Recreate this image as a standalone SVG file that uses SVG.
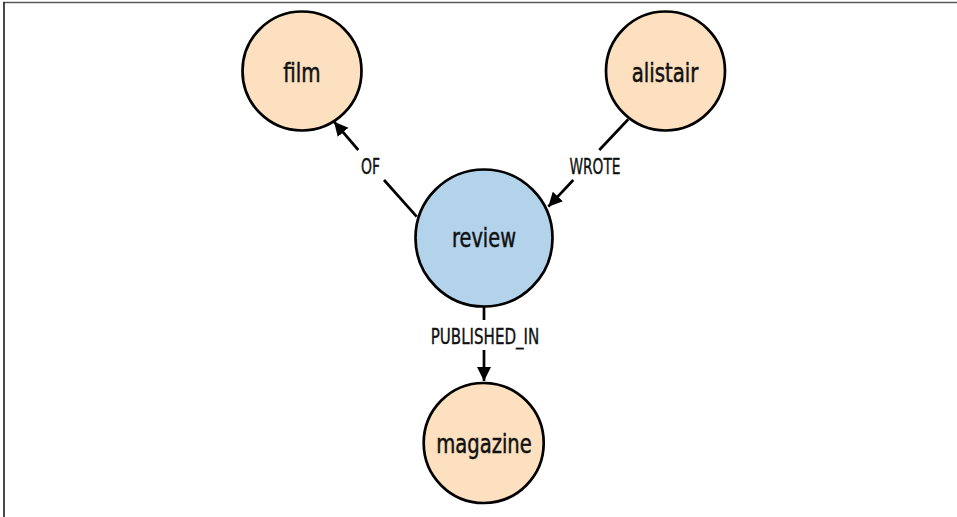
<svg xmlns="http://www.w3.org/2000/svg" width="957" height="517" viewBox="0 0 957 517">
<style>
.bg{fill:#ffffff}
.node circle{stroke:#000;stroke-width:2.7}
.orange circle{fill:#fde0c0}
.blue circle{fill:#b2d3ea}
.nlabel{font-family:"DejaVu Sans Condensed","DejaVu Sans","Liberation Sans",sans-serif;font-stretch:condensed;font-size:27px;fill:#111;stroke:#111;stroke-width:0.5;text-anchor:middle}
.elabel{font-family:"DejaVu Sans Condensed","DejaVu Sans","Liberation Sans",sans-serif;font-stretch:condensed;font-size:20.5px;fill:#111;stroke:#111;stroke-width:0.35;text-anchor:middle}
.edge line{stroke:#000;stroke-width:2.7;fill:none}
</style>
<defs>
<marker id="arrow" markerUnits="userSpaceOnUse" markerWidth="16" markerHeight="16" refX="14" refY="7" orient="auto" viewBox="0 0 16 16">
<path d="M0,0 L14,7 L0,14 z" fill="#000"/>
</marker>
</defs>
<rect class="bg" x="0" y="0" width="957" height="517"/>
<g id="frame">
<line x1="3" y1="2.5" x2="957" y2="2.5" stroke="#5a5a5a" stroke-width="1.4"/>
<line x1="4" y1="2" x2="4" y2="517" stroke="#2a2a2a" stroke-width="1.7"/>
</g>
<g id="connectors" class="edge">
<g id="edge-of">
<line x1="416.7" y1="216.7" x2="384" y2="180"/>
<line x1="358.3" y1="150" x2="334" y2="121.7" marker-end="url(#arrow)"/>
<text class="elabel" x="370.5" y="174" textLength="19" lengthAdjust="spacingAndGlyphs">OF</text>
</g>
<g id="edge-wrote">
<line x1="628.3" y1="119.3" x2="599.3" y2="150"/>
<line x1="573.3" y1="180" x2="548.3" y2="206.7" marker-end="url(#arrow)"/>
<text class="elabel" x="595" y="173.5" textLength="51" lengthAdjust="spacingAndGlyphs">WROTE</text>
</g>
<g id="edge-published">
<line x1="484" y1="306" x2="484" y2="320"/>
<line x1="484" y1="350" x2="484" y2="381" marker-end="url(#arrow)"/>
<text class="elabel" x="485" y="344" textLength="108.6" lengthAdjust="spacingAndGlyphs">PUBLISHED_IN</text>
</g>
</g>
<g id="node-film" class="node orange">
<circle cx="302" cy="71" r="59.5"/>
<text class="nlabel" x="302" y="81.7" textLength="37.3" lengthAdjust="spacingAndGlyphs">film</text>
</g>
<g id="node-alistair" class="node orange">
<circle cx="665.5" cy="71" r="59.5"/>
<text class="nlabel" x="665" y="81.7" textLength="66.7" lengthAdjust="spacingAndGlyphs">alistair</text>
</g>
<g id="node-review" class="node blue">
<circle cx="484" cy="238" r="68.5"/>
<text class="nlabel" x="484" y="246.7" textLength="64" lengthAdjust="spacingAndGlyphs">review</text>
</g>
<g id="node-magazine" class="node orange">
<circle cx="483.7" cy="443" r="60"/>
<text class="nlabel" x="484" y="452.7" textLength="95.7" lengthAdjust="spacingAndGlyphs">magazine</text>
</g>
</svg>
